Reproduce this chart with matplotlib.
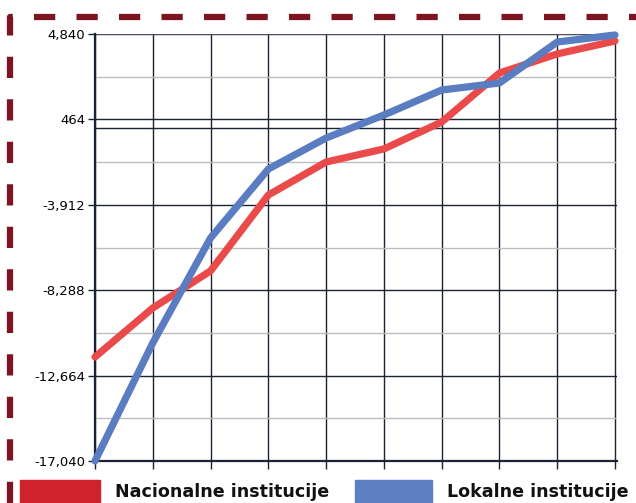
import matplotlib
matplotlib.use("Agg")
import matplotlib.pyplot as plt
from matplotlib.lines import Line2D
from matplotlib.patches import Rectangle
from matplotlib.ticker import FuncFormatter

# data
points = list(range(10))
nacionalne = [-11710, -9200, -7300, -3410, -1720, -1050, 330, 2840, 3820, 4480]
lokalne = [-17040, -10990, -5610, -2080, -490, 690, 1970, 2330, 4430, 4790]
y_ticks = [-17040, -12664, -8288, -3912, 464, 4840]
series_names = ["Nacionalne institucije", "Lokalne institucije"]

W, H = 636, 503
fig = plt.figure(figsize=(W / 100, H / 100), dpi=100)

# plot area in pixels: x 95..617, y 34..461
ax = fig.add_axes([95 / W, 1 - 461 / H, (617 - 95) / W, (461 - 34) / H])

grid_dark = "#1b2233"
ax.set_xlim(0, 9 * (617 - 95) / (615 - 95))
ax.set_ylim(y_ticks[0], y_ticks[-1])
ax.set_yticks(y_ticks)
ax.set_yticks([(a + b) / 2 for a, b in zip(y_ticks[:-1], y_ticks[1:])], minor=True)
ax.set_xticks(points)
ax.set_xticklabels([])
ax.yaxis.set_major_formatter(FuncFormatter(lambda v, _: f"{int(round(v)):,}"))

ax.grid(True, which="major", axis="both", color=grid_dark, lw=1.0)
ax.grid(True, which="minor", axis="y", color="#bdbdbd", lw=1.0)
ax.axhline(0, color=grid_dark, lw=1.0, zorder=1)
ax.set_axisbelow(True)

for side in ["top", "right"]:
    ax.spines[side].set_visible(False)
ax.spines["left"].set_color(grid_dark)
ax.spines["left"].set_linewidth(1.6)
ax.spines["bottom"].set_color(grid_dark)
ax.spines["bottom"].set_linewidth(1.6)
ax.axhline(y_ticks[-1], color="#555a66", lw=1.2, zorder=1)

ax.tick_params(axis="y", which="major", length=5, width=1, color=grid_dark,
               labelsize=9.5, pad=2)
ax.tick_params(axis="y", which="minor", length=0)
ax.tick_params(axis="x", which="major", length=6, width=1, color=grid_dark)
for lab in ax.get_yticklabels():
    lab.set_family(["Liberation Sans Narrow", "DejaVu Sans"])

ax.plot(points, nacionalne, color="#ea4a4a", lw=5.2, solid_capstyle="round",
        solid_joinstyle="round", clip_on=False, zorder=3)
ax.plot(points, lokalne, color="#5a7cc0", lw=5.2, solid_capstyle="round",
        solid_joinstyle="round", clip_on=False, zorder=4)

# legend drawn below the plot
def px(x, y):
    return x / W, 1 - y / H

legend_items = [
    (20, 100, "#d0222a", 115, series_names[0]),
    (355, 432, "#5b7fc0", 447, series_names[1]),
]
for x0, x1, col, tx, name in legend_items:
    fx, fy = px(x0, 503)
    fig.add_artist(Rectangle((fx, fy), (x1 - x0) / W, 23 / H, color=col,
                             transform=fig.transFigure, clip_on=False))
    fig.text(*px(tx, 492), name, fontsize=12.6, fontweight="bold",
             va="center", ha="left", color="#111111", family="DejaVu Sans")

# dashed frame
bx = [10 / W, 10 / W, 1.0]
by = [0.0, 1 - 17 / H, 1 - 17 / H]
fig.add_artist(Line2D(bx, by, transform=fig.transFigure, color="#7d1420",
                      lw=4.5, dashes=(3.4, 3.4), solid_capstyle="butt"))

fig.savefig("out.png", dpi=100)
